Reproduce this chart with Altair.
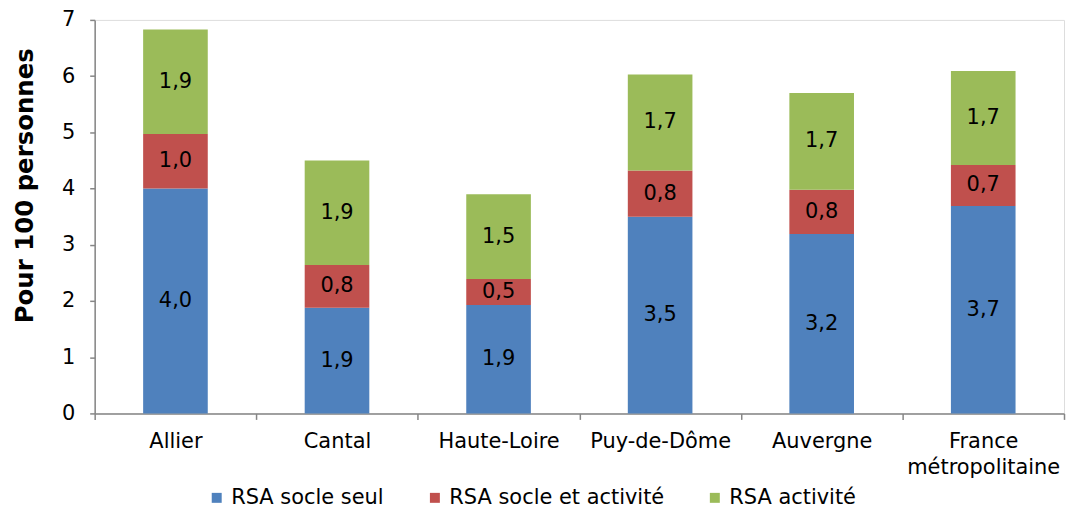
import altair as alt
import pandas as pd

categories = ["Allier", "Cantal", "Haute-Loire", "Puy-de-Dôme", "Auvergne", "France métropolitaine"]
series = ["RSA socle seul", "RSA socle et activité", "RSA activité"]
socle_seul = [4.0, 1.88, 1.93, 3.5, 3.19, 3.69]
socle_activite = [0.97, 0.76, 0.46, 0.82, 0.79, 0.73]
activite = [1.86, 1.86, 1.51, 1.71, 1.72, 1.67]
colors = ["#4F81BD", "#C0504D", "#9BBB59"]

rows = []
for i, c in enumerate(categories):
    for j, (s, vals) in enumerate(zip(series, [socle_seul, socle_activite, activite])):
        rows.append({"cat": c, "series": s, "order": j, "value": vals[i]})
df = pd.DataFrame(rows)

FONT = "DejaVu Sans"
GREY = "#868686"
FS = 21

base = alt.Chart(df).transform_stack(
    stack="value", groupby=["cat"], as_=["y0", "y1"], sort=[alt.SortField("order")]
).transform_calculate(
    mid="(datum.y0 + datum.y1) / 2",
    label="replace(format(datum.value, '.1f'), '.', ',')",
)

x = alt.X(
    "cat:N", sort=categories, title=None,
    scale=alt.Scale(paddingInner=0, paddingOuter=0),
    axis=alt.Axis(
        tickBand="extent", labelAngle=0, labelExpr="split(datum.label, ' ')",
        labelFont=FONT, labelFontSize=FS, labelColor="#000000", labelPadding=11,
        labelLineHeight=26,
        domainColor=GREY, tickColor=GREY, tickSize=6, domainWidth=1.5, tickWidth=1.5,
    ),
)

bars = base.mark_bar(width=alt.RelativeBandSize(0.4)).encode(
    x=x,
    y=alt.Y(
        "y0:Q", title="Pour 100 personnes",
        scale=alt.Scale(domain=[0, 7], nice=False),
        axis=alt.Axis(
            values=[0, 1, 2, 3, 4, 5, 6, 7], format="d", grid=False, labelFont=FONT,
            labelFontSize=FS, labelColor="#000000", labelPadding=15, titleFont=FONT,
            titleFontSize=24.5, titleFontWeight="bold", titleColor="#000000", titlePadding=24,
            titleY=166,
            domainColor=GREY, tickColor=GREY, tickSize=5, domainWidth=1.5, tickWidth=1.5,
        ),
    ),
    y2="y1:Q",
    color=alt.Color(
        "series:N", sort=series,
        scale=alt.Scale(domain=series, range=colors),
        legend=alt.Legend(
            title=None, orient="none", legendX=112, legendY=469, direction="horizontal",
            symbolType="square", symbolSize=100, symbolStrokeWidth=0, labelFont=FONT,
            labelFontSize=FS, labelColor="#000000", columnPadding=40, labelOffset=4,
            labelLimit=400, padding=0,
        ),
    ),
    order=alt.Order("order:Q"),
)

labels = base.mark_text(font=FONT, fontSize=FS, color="#000000").encode(
    x=x,
    y=alt.Y("mid:Q"),
    text="label:N",
)

chart = (bars + labels).properties(
    width=973, height=395,
    padding={"left": 4, "top": 0, "right": 2, "bottom": 0},
).configure_view(stroke=None).configure(background="white")

chart.save("out.html", embed_options={"renderer": "svg", "actions": False})
